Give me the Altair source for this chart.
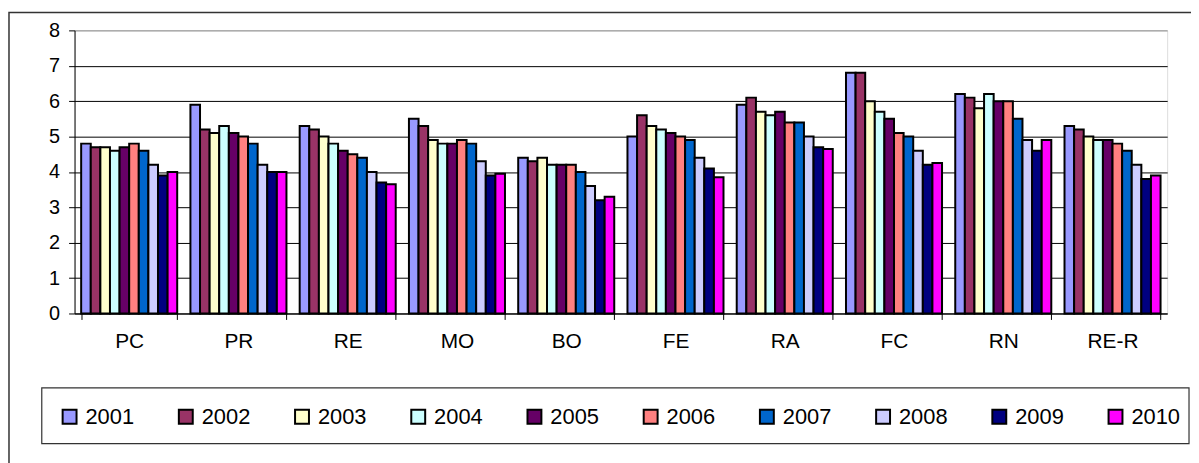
import altair as alt
import pandas as pd

categories = ["PC", "PR", "RE", "MO", "BO", "FE", "RA", "FC", "RN", "RE-R"]
years = ["2001", "2002", "2003", "2004", "2005", "2006", "2007", "2008", "2009", "2010"]
colors = ["#9999FF", "#993366", "#FFFFCC", "#CCFFFF", "#660066",
          "#FF8080", "#0066CC", "#CCCCFF", "#000080", "#FF00FF"]

pc = [4.8, 4.7, 4.7, 4.6, 4.7, 4.8, 4.6, 4.2, 3.9, 4.0]
pr = [5.9, 5.2, 5.1, 5.3, 5.1, 5.0, 4.8, 4.2, 4.0, 4.0]
re = [5.3, 5.2, 5.0, 4.8, 4.6, 4.5, 4.4, 4.0, 3.7, 3.65]
mo = [5.5, 5.3, 4.9, 4.8, 4.8, 4.9, 4.8, 4.3, 3.9, 3.95]
bo = [4.4, 4.3, 4.4, 4.2, 4.2, 4.2, 4.0, 3.6, 3.2, 3.3]
fe = [5.0, 5.6, 5.3, 5.2, 5.1, 5.0, 4.9, 4.4, 4.1, 3.85]
ra = [5.9, 6.1, 5.7, 5.6, 5.7, 5.4, 5.4, 5.0, 4.7, 4.65]
fc = [6.8, 6.8, 6.0, 5.7, 5.5, 5.1, 5.0, 4.6, 4.2, 4.25]
rn = [6.2, 6.1, 5.8, 6.2, 6.0, 6.0, 5.5, 4.9, 4.6, 4.9]
rer = [5.3, 5.2, 5.0, 4.9, 4.9, 4.8, 4.6, 4.2, 3.8, 3.9]

series = [pc, pr, re, mo, bo, fe, ra, fc, rn, rer]
rows = []
for cat, vals in zip(categories, series):
    for yr, v in zip(years, vals):
        rows.append({"cat": cat, "year": yr, "value": v})
df = pd.DataFrame(rows)

FONT = "Liberation Sans"

bars = alt.Chart(df).mark_bar(stroke="black", strokeWidth=2).encode(
    x=alt.X("cat:N", sort=categories,
            scale=alt.Scale(paddingInner=0.121, paddingOuter=0.0605),
            axis=alt.Axis(title=None, labelAngle=0, domainColor="black", tickColor="black",
                          tickSize=6, tickBand="extent", labelFontSize=21, labelPadding=11,
                          labelColor="black", grid=False, labelFont=FONT)),
    xOffset=alt.XOffset("year:N", sort=years),
    y=alt.Y("value:Q", scale=alt.Scale(domain=[0, 8], nice=False),
            axis=alt.Axis(title=None, values=[0, 1, 2, 3, 4, 5, 6, 7, 8],
                          gridColor={"condition": {"test": "datum.value === 8", "value": "#888888"},
                                     "value": "black"},
                          gridWidth=1, domainColor="black", tickColor="black", tickSize=6,
                          labelPadding=9, labelFontSize=20, labelColor="black", labelFont=FONT)),
    color=alt.Color("year:N", sort=years,
                    scale=alt.Scale(domain=years, range=colors),
                    legend=alt.Legend(title=None, orient="none", legendX=-16, legendY=378,
                                      direction="horizontal", columns=10, symbolType="square",
                                      symbolSize=196, symbolStrokeColor="black",
                                      symbolStrokeWidth=2, labelFontSize=22, labelOffset=5,
                                      columnPadding=41, labelColor="black", labelFont=FONT)),
)

one = pd.DataFrame({"a": [0]})
outer = alt.Chart(one).mark_rect(filled=False, stroke="#333333", strokeWidth=1.5).encode(
    x=alt.value(-66), x2=alt.value(1135), y=alt.value(-18), y2=alt.value(450))
legbox = alt.Chart(one).mark_rect(filled=False, stroke="#333333", strokeWidth=1.2).encode(
    x=alt.value(-33), x2=alt.value(1122), y=alt.value(360), y2=alt.value(416))

chart = alt.layer(outer, legbox, bars).properties(
    width=1100, height=285,
    autosize=alt.AutoSizeParams(type="none"),
    padding={"left": 67, "top": 21, "right": 24, "bottom": 149},
).configure_view(stroke="#888888", strokeWidth=2).configure(background="white")

chart.save("out.html", embed_options={"renderer": "svg", "actions": False})
